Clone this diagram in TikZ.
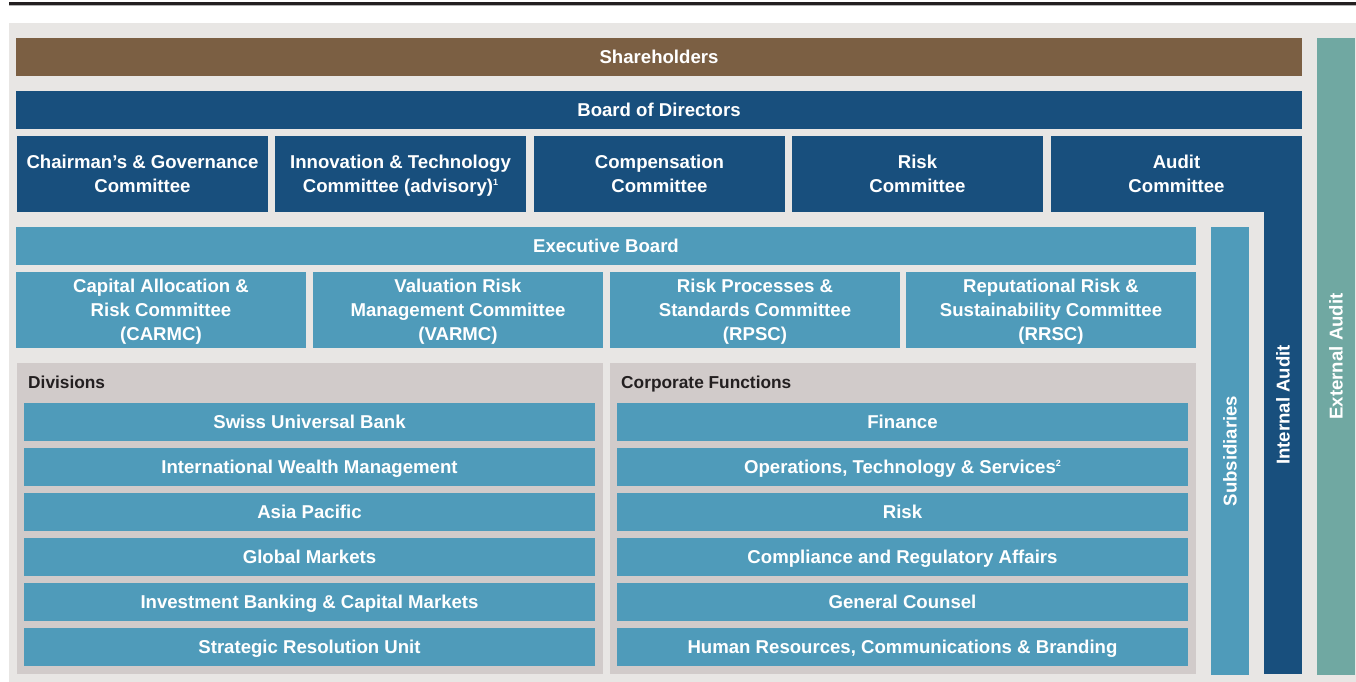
\documentclass[tikz,border=0pt]{standalone}
\usepackage{fontspec}
\setmainfont{Liberation Sans}
\definecolor{cbrown}{HTML}{7B5F43}
\definecolor{cdark}{HTML}{184F7D}
\definecolor{cmid}{HTML}{4F9BBA}
\definecolor{cteal}{HTML}{70A8A2}
\definecolor{cbg}{HTML}{E8E6E4}
\definecolor{cpanel}{HTML}{D1CBCA}
\definecolor{ctext}{HTML}{231F20}
\tikzset{
  blk/.style={inner sep=0pt, outer sep=0pt, anchor=north west, align=center, text=white,
    font=\fontsize{18.6}{24}\selectfont\bfseries},
  vbar/.style={inner sep=0pt, outer sep=0pt, rotate=90, text=white,
    font=\fontsize{18.6}{24}\selectfont\bfseries},
  plabel/.style={inner sep=0pt, anchor=base west, text=ctext, font=\fontsize{17.3}{20}\selectfont\bfseries},
}
\newcommand{\st}{\rule[-3.7pt]{0pt}{20.5pt}}
\newcommand{\bx}[7]{\node[blk, fill=#6, minimum width=#4pt, minimum height=#5pt] (#1) at (#2,#3) {\st#7};}
\newcommand{\sups}[1]{{\fontsize{9}{9}\selectfont\raisebox{6.5pt}{#1}}}
\begin{document}
\begin{tikzpicture}[x=1pt,y=-1pt]
\useasboundingbox (0,0) rectangle (1356,682);
\fill[ctext] (9,2) rectangle (1356,5);
\fill[black!30] (9,5) rectangle (1356,6);
\fill[cbg] (9,23) rectangle (1356,682);
% top bars
\bx{sh}{16}{38}{1286}{38}{cbrown}{Shareholders}
\bx{bod}{16}{91}{1286}{38}{cdark}{Board of Directors}
% committees
\bx{c1}{17}{136}{251}{76}{cdark}{Chairman’s \& Governance\\\st Committee}
\bx{c2}{275}{136}{251}{76}{cdark}{Innovation \& Technology\\\st Committee (advisory)\sups{1}}
\bx{c3}{534}{136}{251}{76}{cdark}{Compensation\\\st Committee}
\bx{c4}{792}{136}{251}{76}{cdark}{Risk\\\st Committee}
\node[vbar, fill=cdark, minimum width=538pt, minimum height=38pt] (ia) at (1283,405) {\st Internal Audit};
\bx{c5}{1051}{136}{251}{76}{cdark}{Audit\\\st Committee}
% executive board
\bx{eb}{16}{227}{1180}{38}{cmid}{Executive Board}
\bx{r1}{16}{272}{290}{76}{cmid}{Capital Allocation \&\\\st Risk Committee\\\st (CARMC)}
\bx{r2}{313}{272}{290}{76}{cmid}{Valuation Risk\\\st Management Committee\\\st (VARMC)}
\bx{r3}{610}{272}{290}{76}{cmid}{Risk Processes \&\\\st Standards Committee\\\st (RPSC)}
\bx{r4}{906}{272}{290}{76}{cmid}{Reputational Risk \&\\\st Sustainability Committee\\\st (RRSC)}
% panels
\node[blk, fill=cpanel, minimum width=586pt, minimum height=311pt] (div) at (17,363) {};
\node[blk, fill=cpanel, minimum width=586pt, minimum height=311pt] (cf) at (610,363) {};
\node[plabel] (divl) at (28,388) {Divisions};
\node[plabel] (cfl) at (621,388) {Corporate Functions};
\bx{d1}{24}{403}{571}{38}{cmid}{Swiss Universal Bank}
\bx{d2}{24}{448}{571}{38}{cmid}{International Wealth Management}
\bx{d3}{24}{493}{571}{38}{cmid}{Asia Pacific}
\bx{d4}{24}{538}{571}{38}{cmid}{Global Markets}
\bx{d5}{24}{583}{571}{38}{cmid}{Investment Banking \& Capital Markets}
\bx{d6}{24}{628}{571}{38}{cmid}{Strategic Resolution Unit}
\bx{f1}{617}{403}{571}{38}{cmid}{Finance}
\bx{f2}{617}{448}{571}{38}{cmid}{Operations, Technology \& Services\sups{2}}
\bx{f3}{617}{493}{571}{38}{cmid}{Risk}
\bx{f4}{617}{538}{571}{38}{cmid}{Compliance and Regulatory Affairs}
\bx{f5}{617}{583}{571}{38}{cmid}{General Counsel}
\bx{f6}{617}{628}{571}{38}{cmid}{Human Resources, Communications \& Branding}
% vertical bars
\node[vbar, fill=cmid, minimum width=448pt, minimum height=38pt] (sub) at (1230,451) {\st Subsidiaries};
\node[vbar, fill=cteal, minimum width=637pt, minimum height=38pt] (ea) at (1336,356.5) {\st External Audit};
\end{tikzpicture}
\end{document}
